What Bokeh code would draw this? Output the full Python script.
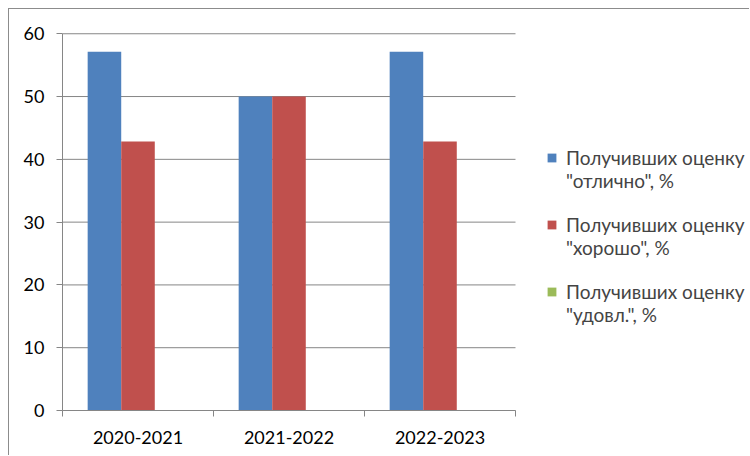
from bokeh.plotting import figure
from bokeh.models import FixedTicker, Legend, LegendItem, ColumnDataSource, Range1d
from bokeh.embed import file_html
from bokeh.resources import INLINE

# ---- data ----
years = ["2020-2021", "2021-2022", "2022-2023"]
excellent = [57.14, 50.0, 57.14]
good = [42.86, 50.0, 42.86]
satisfactory = [0.0, 0.0, 0.0]
label_line1 = ["Получивших оценку", "Получивших оценку", "Получивших оценку"]
label_line2 = ['"отлично", %', '"хорошо", %', '"удовл.", %']
y_ticks = [0, 10, 20, 30, 40, 50, 60]

colors = ["#4F81BD", "#C0504D", "#9BBB59"]
FONT = "Lato"
GRID = "#868686"

# frame spans the whole right side; the category area is the left part of it
FIG_W, FIG_H = 741, 447
LEFT, TOP, BOTTOM = 53, 23, 46
CHART_W = 453                      # px width of the category area
frame_w = FIG_W - LEFT
x_end = len(years) * frame_w / CHART_W
y_max = max(y_ticks)

p = figure(width=FIG_W, height=FIG_H, output_backend="svg", toolbar_location=None,
           x_range=Range1d(0, x_end), y_range=Range1d(0, y_max + 0.2),
           min_border_left=LEFT, min_border_top=TOP, min_border_right=0,
           min_border_bottom=BOTTOM)
p.styles = {"margin-left": "8px", "margin-top": "8px",
            "border-top": "1px solid #8c8c8c", "border-left": "1px solid #8c8c8c"}
p.outline_line_color = None
p.background_fill_color = "white"
p.border_fill_color = "white"
p.xgrid.grid_line_color = None
p.ygrid.grid_line_color = None

# horizontal gridlines limited to the category area
p.segment(x0=[0] * len(y_ticks), x1=[len(years)] * len(y_ticks),
          y0=y_ticks, y1=y_ticks, line_color=GRID, line_width=1)

bar_w = 1 / 4.5
offsets = [-bar_w, 0.0, bar_w]
renderers = []
for vals, off, col in zip([excellent, good, satisfactory], offsets, colors):
    src = ColumnDataSource(dict(x=[i + 0.5 + off for i in range(len(years))], top=vals))
    r = p.vbar(x="x", top="top", width=bar_w, bottom=0, source=src,
               fill_color=col, line_color=None)
    renderers.append(r)

# invisible renderer used for the continuation lines of the legend
blank = p.vbar(x=[], top=[], width=0.1, fill_alpha=0, line_alpha=0)

# axes
p.xaxis.ticker = FixedTicker(ticks=[i + 0.5 for i in range(len(years))],
                             minor_ticks=list(range(len(years) + 1)))
p.xaxis.major_label_overrides = {i + 0.5: y for i, y in enumerate(years)}
p.xaxis.bounds = (0, len(years))
p.xaxis.major_tick_out = 0
p.xaxis.major_tick_in = 0
p.xaxis.minor_tick_out = 6
p.xaxis.minor_tick_in = 0
p.xaxis.major_label_standoff = 14

p.yaxis.ticker = FixedTicker(ticks=y_ticks)
p.yaxis.bounds = (0, y_max)
p.yaxis.major_tick_out = 6
p.yaxis.major_tick_in = 0
p.yaxis.major_label_standoff = 12

for ax in (p.xaxis, p.yaxis):
    ax.axis_line_color = GRID
    ax.major_tick_line_color = GRID
    ax.major_label_text_font = FONT
    ax.major_label_text_font_size = "18px"
    ax.major_label_text_color = "black"
p.xaxis.minor_tick_line_color = GRID
p.yaxis.minor_tick_line_color = None

items = []
for k, (l1, l2, r) in enumerate(zip(label_line1, label_line2, renderers)):
    items.append(LegendItem(label=l1, renderers=[r]))
    items.append(LegendItem(label=l2, renderers=[blank]))
    if k < len(renderers) - 1:
        items.append(LegendItem(label=" ", renderers=[blank]))

legend = Legend(items=items, location=(484, 84), orientation="vertical",
                glyph_width=11, glyph_height=11, label_standoff=9, spacing=0,
                padding=0, margin=0, border_line_color=None, background_fill_alpha=0,
                label_text_font=FONT, label_text_font_size="19px",
                label_height=21, label_text_baseline="middle")
p.add_layout(legend)

open("out.html", "w").write(file_html(p, INLINE))
